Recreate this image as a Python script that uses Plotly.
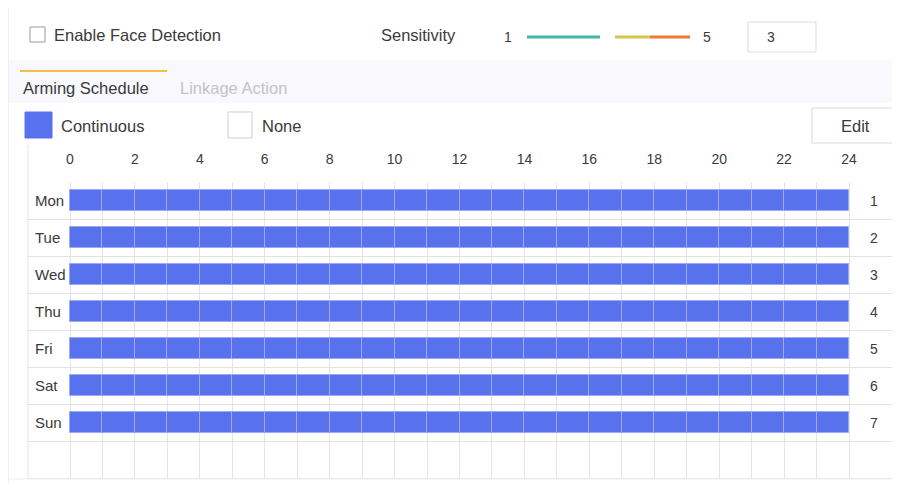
import plotly.graph_objects as go

# the page puts the plot 8px in from the top-left corner, so the figure is
# 8px smaller and every pixel position below is shifted by that offset
OFF = 8
W, H = 900 - OFF, 490 - OFF

days = ["Mon", "Tue", "Wed", "Thu", "Fri", "Sat", "Sun"]
day_numbers = ["1", "2", "3", "4", "5", "6", "7"]
armed_from = [0, 0, 0, 0, 0, 0, 0]        # start hour of the continuous block
armed_to = [24, 24, 24, 24, 24, 24, 24]   # end hour of the continuous block
hour_ticks = [0, 2, 4, 6, 8, 10, 12, 14, 16, 18, 20, 22, 24]
sensitivity_min, sensitivity_max, sensitivity_value = 1, 5, 3

BLUE = "#5872ee"
TXT = "#3a3a3a"
LINE = "#e3e3e3"
FONT = "Liberation Sans, Arial, sans-serif"
ROW = 37.0          # px per schedule row
HOUR = 32.46        # px per hour
X0 = 70             # px of hour 0


def px(x):
    return (x - OFF) / W


def py(y):
    return 1 - (y - OFF) / H


# split every armed block into one-hour cells, like the schedule grid
seg_y, seg_base = [], []
for i in range(len(days)):
    for h in range(armed_from[i], armed_to[i]):
        seg_y.append(i)
        seg_base.append(h)

fig = go.Figure(go.Bar(
    orientation="h", y=seg_y, x=[1] * len(seg_y), base=seg_base, width=0.57,
    marker=dict(color=BLUE, line=dict(color="#9eaaf6", width=1)),
    hoverinfo="skip", showlegend=False
))

all_hours = list(range(25))
fig.update_xaxes(
    domain=[px(28), 1.0], range=[(28 - X0) / HOUR, (900 - X0) / HOUR], side="top",
    tickvals=all_hours,
    ticktext=[str(h) if h in hour_ticks else "" for h in all_hours],
    ticks="", showgrid=True, gridcolor=LINE, gridwidth=1, zeroline=False,
    showline=False, tickfont=dict(size=14, color=TXT), ticklabelstandoff=14,
    fixedrange=True
)
fig.update_yaxes(
    domain=[0.0, py(182)], range=[(490 - 182) / ROW - 0.5, -0.5],
    tickvals=[k - 0.5 for k in range(9)], showticklabels=False, ticks="",
    showgrid=True, gridcolor=LINE, gridwidth=1, zeroline=False, fixedrange=True
)

shapes = []
annos = []


def rect(x0, y0, x1, y1, fill="rgba(0,0,0,0)", line="#cfcfcf", lw=1, layer="below"):
    shapes.append(dict(type="rect", xref="paper", yref="paper",
                       x0=px(x0), x1=px(x1), y0=py(y1), y1=py(y0),
                       fillcolor=fill, line=dict(color=line, width=lw), layer=layer))


def hline(x0, x1, y, color, lw):
    shapes.append(dict(type="line", xref="paper", yref="paper",
                       x0=px(x0), x1=px(x1), y0=py(y), y1=py(y),
                       line=dict(color=color, width=lw)))


def text(x, y, s, size=16, color=TXT, anchor="left"):
    annos.append(dict(xref="paper", yref="paper", x=px(x), y=py(y), text=s,
                      showarrow=False, xanchor=anchor, yanchor="middle",
                      font=dict(size=size, color=color, family=FONT)))


# blank strip under the table, tab strip and table border
rect(9, 479, 905, 495, fill="white", line="rgba(0,0,0,0)", layer="above")
hline(9, 905, 479, "#ededed", 1)
rect(9, 60, 905, 103, fill="#f8f8fd", line="rgba(0,0,0,0)")
shapes.append(dict(type="line", xref="paper", yref="paper", x0=px(28), x1=px(28),
                   y0=py(478), y1=py(145), line=dict(color=LINE, width=1)))
shapes.append(dict(type="line", xref="paper", yref="paper", x0=px(8.5), x1=px(8.5),
                   y0=py(484), y1=py(8), line=dict(color="#efefef", width=1)))

# top row: face detection + sensitivity
rect(30, 27, 45, 42, fill="white", line="#9a9a9a")
text(52, 35, "Enable Face Detection", size=16.5)
text(379, 35, "Sensitivity", size=16.5)
text(508, 37, str(sensitivity_min), size=14, anchor="center")
text(707, 37, str(sensitivity_max), size=14, anchor="center")
hline(527, 600, 37, "#3fb8a8", 3)
hline(615, 650, 37, "#d3c64a", 3)
hline(650, 690, 37, "#ee7a35", 3)
rect(748, 22, 816, 52, fill="white", line="#dddddd")
text(765, 37, str(sensitivity_value), size=14)

# tabs
hline(20, 167, 71, "#f2c04a", 2)
text(21, 88, "Arming Schedule", size=16.5)
text(178, 88, "Linkage Action", size=16.5, color="#c4c4c4")

# legend row + edit
rect(25, 112, 52, 138, fill=BLUE, line=BLUE)
text(59, 126, "Continuous", size=16.5)
rect(228, 112, 252, 138, fill="white", line="#cfcfcf")
text(260, 126, "None", size=16.5)
rect(812, 108, 897, 143, fill="white", line="#dcdcdc")
text(855, 126, "Edit", size=16.5, anchor="center")

# day names and row numbers
for i, d in enumerate(days):
    annos.append(dict(xref="paper", yref="y", x=px(33), y=i, text=d, showarrow=False,
                      xanchor="left", yanchor="middle",
                      font=dict(size=15, color=TXT, family=FONT)))
    annos.append(dict(xref="paper", yref="y", x=px(874), y=i, text=day_numbers[i],
                      showarrow=False, xanchor="center", yanchor="middle",
                      font=dict(size=14, color=TXT, family=FONT)))

fig.update_layout(
    width=W, height=H, margin=dict(l=0, r=0, t=0, b=0),
    paper_bgcolor="white", plot_bgcolor="white",
    font=dict(family=FONT, color=TXT),
    barmode="overlay", bargap=0,
    shapes=shapes, annotations=annos
)

fig.write_html("out.html")
